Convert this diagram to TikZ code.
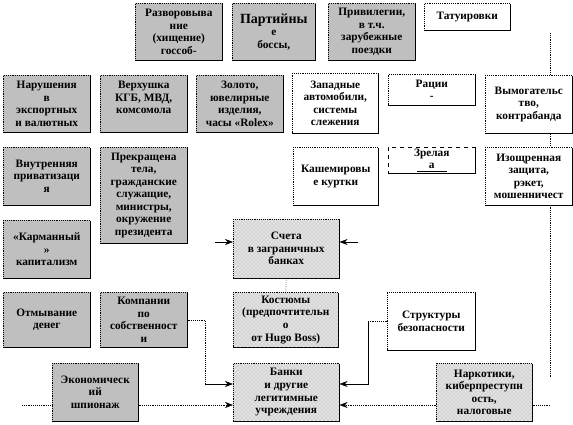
\documentclass[tikz,border=0pt]{standalone}
\usepackage{fontspec}
\setmainfont{Liberation Serif}
\usepackage{tikz}
\usetikzlibrary{arrows.meta, positioning, shadows, patterns}

\tikzset{
    blk/.style={draw, densely dotted, anchor=north west, align=center, inner sep=1pt,
        font=\fontsize{8.5}{9.4}\selectfont\bfseries,
        drop shadow={shadow xshift=0.7pt, shadow yshift=-0.7pt, fill=black, opacity=1}},
    sz/.style 2 args={minimum width=#1*0.75pt, minimum height=#2*0.75pt},
    grbox/.style={blk, fill=gray!50},
    wtbox/.style={blk, fill=white},
    ptbox/.style={blk, preaction={fill=gray!22}, pattern=crosshatch dots, pattern color=gray!75},
    lnk/.style={densely dotted},
}

\begin{document}
\begin{tikzpicture}[x=0.75pt, y=-0.75pt, >={Stealth[length=6pt, width=4.5pt]}]
    \useasboundingbox (0,0) rectangle (573,424);

    % Правая пунктирная линия (идёт за блоками)
    \coordinate (r1) at (550,33);
    \coordinate (r2) at (550,378);
    \draw[lnk] (r1) -- (r2);

    % Верхний ряд
    \node[grbox, sz={87}{57}] (razv) at (135,3) {Разворовыва\\ние\\(хищение)\\госсоб-};
    \node[grbox, sz={83}{57}] (part) at (232,3)
        {\fontsize{10.5}{11.5}\selectfont Партийны\\е\\\fontsize{8.5}{10.5}\selectfont боссы,};
    \node[grbox, sz={87}{57}] (priv) at (328,3) {Привилегии,\\в т.ч.\\зарубежные\\поездки};
    \node[wtbox, sz={86}{27}] (tatu) at (424,3) {Татуировки};

    % Второй ряд
    \node[grbox, sz={87}{57}] (narush) at (3,75) {Нарушения\\в\\экспортных\\и валютных};
    \node[grbox, sz={87}{57}] (verh) at (100,75) {Верхушка\\КГБ, МВД,\\комсомола\\~};
    \node[grbox, sz={87}{57}] (zoloto) at (196,75) {Золото,\\ювелирные\\изделия,\\часы «Rolex»};
    \node[wtbox, sz={86}{60}] (zapad) at (292,73) {Западные\\автомобили,\\системы\\слежения};
    \node[wtbox, sz={87}{31}] (racii) at (388,74) {Рации\\-};
    \node[wtbox, sz={87}{58}] (vymog) at (485,75) {Вымогательс\\тво,\\контрабанда};

    % Третий ряд
    \node[grbox, sz={87}{58}] (vnutr) at (3,147) {Внутренняя\\приватизаци\\я};
    \node[grbox, sz={87}{96}] (prek) at (100,147)
        {Прекращена\\тела,\\гражданские\\служащие,\\министры,\\окружение\\президента};
    \node[wtbox, sz={85}{58}] (kash) at (293,147) {Кашемировы\\е куртки};
    \node[wtbox, dashed, sz={87}{26}] (zrel) at (388,147)
        {Зрелая\\\underline{\hspace{9pt}а\hspace{9pt}}};
    \node[wtbox, sz={87}{58}] (izosch) at (485,147) {Изощренная\\защита,\\рэкет,\\мошенничест};

    % Четвёртый ряд
    \node[grbox, sz={87}{58}] (karm) at (3,220) {«Карманный\\»\\капитализм};
    \node[ptbox, sz={106}{59}] (scheta) at (233,219) {Счета\\в заграничных\\банках};

    % Пятый ряд
    \node[grbox, sz={87}{55}] (otmyv) at (3,292) {Отмывание\\денег};
    \node[grbox, sz={87}{55}] (komp) at (100,292) {Компании\\по\\собственност\\и};
    \node[ptbox, sz={105}{55}] (kost) at (233,292) {Костюмы\\(предпочтительн\\о\\от Hugo Boss)};
    \node[wtbox, sz={88}{58}] (strukt) at (387,292) {Структуры\\безопасности};

    % Нижний ряд
    \node[grbox, sz={86}{58}] (shpion) at (52,363) {Экономическ\\ий\\шпионаж};
    \node[ptbox, sz={106}{58}] (banki) at (233,363) {Банки\\и другие\\легитимные\\учреждения};
    \node[ptbox, sz={96}{58}] (nark) at (436,363) {Наркотики,\\киберпреступн\\ость,\\налоговые};

    % Связи
    \coordinate (c5) at (215,242);
    \coordinate (c6) at (358,242);
    \draw[->] (c5) -- (scheta.west |- c5);
    \draw[->] (c6) -- (scheta.east |- c6);
    \draw[lnk] (scheta.south) -- (kost.north);

    \coordinate (c1) at (205,384);
    \draw[lnk] (komp.east) -| (c1);
    \draw[->] (c1) -- (banki.west |- c1);

    \coordinate (c2) at (368,321);
    \draw[lnk] (strukt.west |- c2) -- (c2);
    \draw[->] (c2) |- (banki.east |- c1);

    \coordinate (c3) at (22,405);
    \coordinate (c4) at (550,405);
    \draw[lnk] (c3) -- (shpion.west |- c3);
    \draw[lnk, ->] (shpion.east |- c3) -- (banki.west |- c3);
    \draw[lnk, ->] (nark.west |- c3) -- (banki.east |- c3);
    \draw[lnk] (nark.east |- c3) -- (c4);
\end{tikzpicture}
\end{document}
